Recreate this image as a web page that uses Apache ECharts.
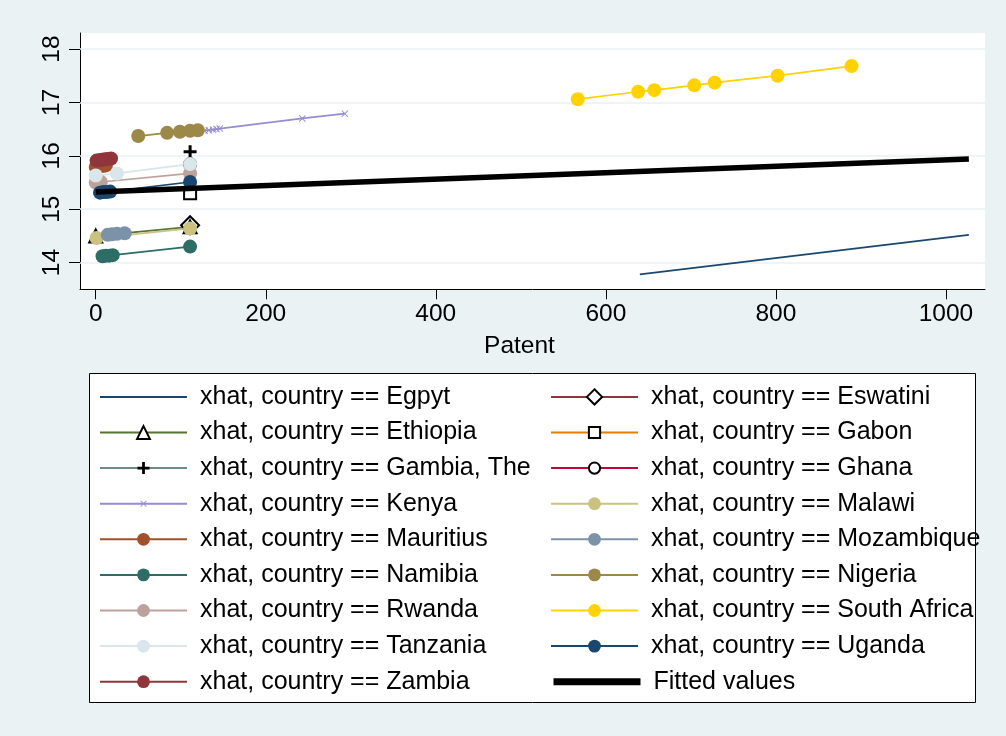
<!DOCTYPE html>
<html><head><meta charset="utf-8">
<script src="https://cdn.jsdelivr.net/npm/echarts@6/dist/echarts.min.js"></script>
<style>html,body{margin:0;padding:0;background:#eaf2f3}#c{width:1006px;height:736px}</style>
</head><body><div id="c"></div>
<script>
// ---- data ----
const countries = ['Egpyt','Eswatini','Ethiopia','Gabon','Gambia, The','Ghana','Kenya','Malawi','Mauritius','Mozambique','Namibia','Nigeria','Rwanda','South Africa','Tanzania','Uganda','Zambia'];
const patentEgpyt = [640, 1027];
const xhatEgpyt = [13.78, 14.52];
const patentEswatini = [111];
const xhatEswatini = [14.70];
const patentEthiopia = [0, 111];
const xhatEthiopia = [14.50, 14.67];
const patentGabon = [111];
const xhatGabon = [15.30];
const patentGambia = [111];
const xhatGambia = [16.075];
const patentGhana = [111];
const xhatGhana = [15.845];
const patentKenya = [128, 133, 138, 142, 146, 243, 293];
const xhatKenya = [16.47, 16.48, 16.49, 16.50, 16.51, 16.70, 16.79];
const patentMalawi = [1, 111];
const xhatMalawi = [14.46, 14.64];
const patentMauritius = [0, 4, 8, 12];
const xhatMauritius = [15.79, 15.80, 15.81, 15.82];
const patentMozambique = [14, 19, 25, 34];
const xhatMozambique = [14.52, 14.53, 14.54, 14.55];
const patentNamibia = [8, 12, 16, 20, 111];
const xhatNamibia = [14.12, 14.13, 14.13, 14.14, 14.30];
const patentNigeria = [50, 84, 99, 111, 120];
const xhatNigeria = [16.37, 16.43, 16.45, 16.47, 16.48];
const patentRwanda = [0, 3, 6, 111];
const xhatRwanda = [15.50, 15.505, 15.51, 15.67];
const patentSouthAfrica = [567, 638, 657, 704, 728, 802, 889];
const xhatSouthAfrica = [17.06, 17.20, 17.23, 17.32, 17.37, 17.50, 17.68];
const patentTanzania = [0, 25, 111];
const xhatTanzania = [15.63, 15.67, 15.845];
const patentUganda = [5, 9, 13, 17, 111];
const xhatUganda = [15.31, 15.32, 15.32, 15.33, 15.51];
const patentZambia = [1, 5, 9, 13, 18];
const xhatZambia = [15.91, 15.92, 15.93, 15.94, 15.95];
const patentFitted = [0, 1027];
const fittedValues = [15.32, 15.94];
const xTicks = [0, 200, 400, 600, 800, 1000];
const yTicks = [14, 15, 16, 17, 18];

// ---- styles ----
const FONT = "'Liberation Sans', Arial, Helvetica, sans-serif";
const seriesData = [
  [patentEgpyt, xhatEgpyt], [patentEswatini, xhatEswatini], [patentEthiopia, xhatEthiopia],
  [patentGabon, xhatGabon], [patentGambia, xhatGambia], [patentGhana, xhatGhana],
  [patentKenya, xhatKenya], [patentMalawi, xhatMalawi], [patentMauritius, xhatMauritius],
  [patentMozambique, xhatMozambique], [patentNamibia, xhatNamibia], [patentNigeria, xhatNigeria],
  [patentRwanda, xhatRwanda], [patentSouthAfrica, xhatSouthAfrica], [patentTanzania, xhatTanzania],
  [patentUganda, xhatUganda], [patentZambia, xhatZambia]
];
const lineColors = ['#1a476f','#90353b','#55752f','#e37e00','#6e8e84','#c10534','#938dd2','#cac27e','#a0522d','#7b92a8','#2d6d66','#9c8847','#bfa19c','#ffd200','#d9e6eb','#1a476f','#90353b'];
const PLUS = 'path://M0,5H13V8H0Z M5,0H8V13H5Z';
const XMARK = 'path://M0,1L1,0L5,4L9,0L10,1L6,5L10,9L9,10L5,6L1,10L0,9L4,5Z';
// marker: [symbol, size, color, legendItemHeight]
const markers = [
  ['none', 0, '#1a476f', 2],
  ['emptyDiamond', 18, '#000', 19],
  ['emptyTriangle', 13, '#000', 16],
  ['emptyRect', 12, '#000', 14],
  [PLUS, 13, '#000', 15],
  ['emptyCircle', 12, '#000', 14],
  [XMARK, 7, '#938dd2', 8],
];
function markerFor(i) {
  if (i < markers.length) return markers[i];
  return ['circle', 14, lineColors[i], 16];
}

const series = [{
  type: 'line', data: [], silent: true,
  markLine: { silent: true, symbol: 'none', z: 1, animation: false,
    label: { show: false },
    lineStyle: { color: '#eaf2f3', width: 1.5, type: 'solid' },
    data: yTicks.map(v => ({ yAxis: v })) }
}];
const legendNames = [];
countries.forEach((c, i) => {
  const m = markerFor(i);
  const name = 'xhat, country == ' + c;
  legendNames.push({ name, h: m[3] });
  series.push({
    name, type: 'line', z: 2,
    data: seriesData[i][0].map((x, k) => [x, seriesData[i][1][k]]),
    symbol: m[0], symbolSize: m[1], showSymbol: m[0] !== 'none',
    lineStyle: { color: lineColors[i], width: 1.7 },
    itemStyle: { color: m[2], borderWidth: m[0].indexOf('empty') === 0 ? 1.6 : 0 },
    emphasis: { disabled: true }
  });
});
series.push({
  name: 'Fitted values', type: 'line', z: 3,
  data: patentFitted.map((x, k) => [x, fittedValues[k]]),
  symbol: 'none', showSymbol: false,
  lineStyle: { color: '#000', width: 5.5 }, itemStyle: { color: '#000' },
  emphasis: { disabled: true }
});
legendNames.push({ name: 'Fitted values', h: 6, lw: 7 });

const legends = legendNames.map((it, i) => {
  const row = Math.floor(i / 2), col = i % 2;
  const cy = 396.9 + row * 35.6;
  const d = { name: it.name };
  if (it.lw) d.lineStyle = { width: it.lw };
  return {
    data: [d], left: col ? 550 : 99, top: cy - 15, padding: 0,
    itemWidth: 87, itemHeight: it.h, selectedMode: false,
    textStyle: { fontSize: 25, color: '#000', fontFamily: FONT, lineHeight: 30, padding: [0, 0, 0, 8] }
  };
});

const chart = echarts.init(document.getElementById('c'), null, { renderer: 'canvas' });
chart.setOption({
  backgroundColor: '#eaf2f3',
  animation: false,
  textStyle: { fontFamily: FONT },
  graphic: [{
    type: 'rect', z: -1, silent: true,
    shape: { x: 89.5, y: 373.5, width: 886, height: 329 },
    style: { fill: '#fff', stroke: '#000', lineWidth: 1 }
  }],
  grid: { left: 80, top: 33, width: 905, height: 256.3, show: true, backgroundColor: '#fff', borderWidth: 0, borderColor: 'transparent' },
  xAxis: {
    type: 'value', min: -18.5, max: 1046,
    axisLine: { show: true, onZero: false, lineStyle: { color: '#000', width: 1 } },
    axisTick: { show: true, length: 10, customValues: xTicks, lineStyle: { color: '#000' } },
    axisLabel: { customValues: xTicks, fontSize: 24.5, color: '#000', margin: 12, fontFamily: FONT, formatter: v => String(v) },
    splitLine: { show: false },
    name: 'Patent', nameLocation: 'middle', nameGap: 44,
    nameTextStyle: { fontSize: 24.5, color: '#000', fontFamily: FONT, padding: [0, 26, 0, 0] }
  },
  yAxis: {
    type: 'value', min: 13.5, max: 18.3,
    axisLine: { show: true, onZero: false, lineStyle: { color: '#000', width: 1 } },
    axisTick: { show: true, length: 11, customValues: yTicks, lineStyle: { color: '#000' } },
    axisLabel: { customValues: yTicks, rotate: 90, fontSize: 24.5, color: '#000', margin: 15, fontFamily: FONT, formatter: v => String(v) },
    splitLine: { show: false }
  },
  legend: legends,
  series
});
</script></body></html>
